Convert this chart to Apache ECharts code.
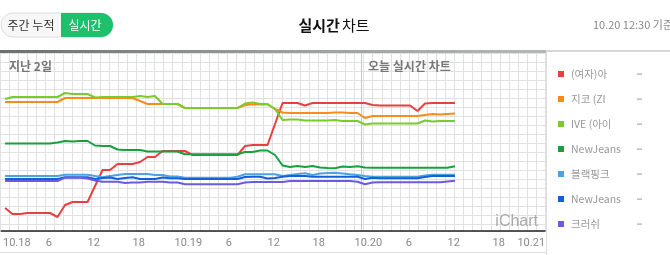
<!DOCTYPE html>
<html>
<head>
<meta charset="utf-8">
<script src="https://cdn.jsdelivr.net/npm/echarts@6.0.0/dist/echarts.min.js"></script>
<style>
html,body{margin:0;padding:0;background:#fff;}
#c{width:670px;height:255px;}
</style>
</head>
<body>
<div id="c"></div>
<script>
// ---- data (hourly points, first point at 10.18 00:30, last at 10.20 12:30) ----
const firstHour = 0.5;
const tickLabels = ["10.18","6","12","18","10.19","6","12","18","10.20","6","12","18","10.21"];
const seriesNames = ["(여자)아", "지코 (ZI", "IVE (아이", "NewJeans", "블랙핑크", "NewJeans", "크러쉬"];
const seriesColors = ["#e8403f", "#f78c1e", "#7acc2c", "#17a03c", "#4ba3e3", "#155fd8", "#6a5be3"];

const red = [23,17,17,18,18,18,18,14,26,29,29,29,45,61,61,67,67,67,69,74,74,80,80,80,80,76,76,76,76,76,76,76,85,86,86,86,107,128,128,128,125.5,128,128,128,128,128,128,128,128,126,125.5,125.5,125.5,125.5,125.5,120,127.5,128,128,128,128];
const orange = [129,129,129,129,129,129,129,129,133,133,133,133,133,133,133,133,133,133,130,127,127,127,127,127,123,123,123,123,123,123,123,123,126,126.5,126.5,126.5,122,118.5,118,118,118,118,118,118,118.5,118.5,118,118,113,115,115,115,115,115,115,115,116,117,116.5,117,117.5];
const lime = [132,134,134,134,134,134,134,134,138,137,137,137,133.5,134,134,134,134,134,135,134,135,127,127,127,123,123,123,123,123,123,123,123,127.5,128.5,127,127,122,111,111.5,111.5,110.5,110.5,110.5,110.5,111,110,110,110,106.5,107.5,107.5,107.5,107.5,107.5,107.5,107.5,110.5,109.5,110,110,110];
const green = [87.5,87.5,87.5,87.5,87.5,87.5,87.5,88.5,90,89.5,90,90,85.5,85,85,81.5,81,81,81,79.5,79.5,79.5,79.5,79.5,76.7,76.7,76.7,76.7,76.7,76.7,76.7,76.7,79,79,80.5,80.5,76,65.5,64,65,64,65,63.5,63,62.7,64.5,64,64.7,63.5,63.3,63.3,63.3,63.3,63.3,63.3,63.3,63.3,63.3,63.3,63.3,64.7];
const skyblue = [55,55,55,55,55,55,55,55,56.3,56.3,56.3,56.3,55,53.7,55,56,57,57,57,57,56,56,54.5,54.5,53.3,53.3,53.3,53.3,53.3,53.3,53.3,54.3,56.7,56.7,56.7,56.7,56.7,55,56,57,57.7,56,57.5,58,58.3,57.5,56.7,56,55,54.3,54.3,54.3,54.3,54.3,54.3,54.3,55.5,56.3,56.3,56.3,56.3];
const blue = [52,52,52,52,52,52,52,52,53.7,53.7,53.7,53.7,52,53,53.5,52,53,53.7,52,52,52,53.5,52.7,52.7,52,52,52,52,52,52,52,52,54,54.3,54.3,52.5,53,54.3,55,55,55,54.3,54.3,54.3,54.3,54.3,54.3,54.3,52,53.2,52.7,52.7,52.7,52.7,52.7,52.7,54,55,55,55,55];
const purple = [50,50,50,50,50,50,50,50,53.3,53.3,53.3,52.5,50.5,49.3,49.3,49.3,48,48.5,48.5,49.3,49.3,49.3,48.5,48.5,46.7,46.7,46.7,46.7,46.7,46.7,46.7,46.7,48.5,49,49,49,49,49,50,50,50,50,50,50,50,50,50,49.3,46.7,48.5,48.7,48.7,48.7,48.7,48.7,48.7,48.7,48.7,48.7,49.5,50.3];
const allSeries = [red, orange, lime, green, skyblue, blue, purple];

const FONT = "'Noto Sans CJK KR', 'Noto Sans', sans-serif";
const chart = echarts.init(document.getElementById('c'), null, {renderer: 'canvas'});

const series = allSeries.map((vals, k) => ({
  type: 'line',
  name: seriesNames[k],
  xAxisIndex: 0, yAxisIndex: 0,
  data: vals.map((v, i) => [firstHour + i, v]),
  showSymbol: false,
  symbol: 'none',
  silent: true,
  lineStyle: {width: 2, color: seriesColors[k]},
  itemStyle: {color: seriesColors[k]},
  z: 5
}));
series[0].markLine = {
  silent: true, symbol: 'none', label: {show: false},
  lineStyle: {color: '#c6c6c6', type: 'solid', width: 1},
  data: [{xAxis: 48}],
  z: 3
};

const lab = {color: '#888', fontSize: 11, fontFamily: "Roboto, sans-serif"};
const legendGraphics = [];
seriesNames.forEach((n, k) => {
  const y = 74 + 25 * k;
  legendGraphics.push({type: 'rect', shape: {x: 558, y: y - 3, width: 6, height: 6}, style: {fill: seriesColors[k]}});
  legendGraphics.push({type: 'text', x: 571, y: y, style: {text: n, fill: '#999', font: "10.5px " + FONT, verticalAlign: 'middle'}});
  legendGraphics.push({type: 'rect', shape: {x: 637, y: y - 0.5, width: 5, height: 1.2}, style: {fill: '#aaa'}});
});

chart.setOption({
  animation: false,
  grid: [
    {left: 1, top: 53, width: 544, height: 178},
    {left: 0, top: 53, width: 545, height: 178}
  ],
  xAxis: [
    {
      gridIndex: 0, type: 'value', min: 0, max: 72.5, interval: 6,
      axisLine: {show: true, lineStyle: {color: '#222', width: 1.5}},
      axisTick: {show: false},
      splitLine: {show: false},
      axisLabel: {
        margin: 7, showMaxLabel: false, ...lab,
        formatter: function (v) {
          if (v % 6 !== 0) return '';
          const idx = v / 6;
          const t = tickLabels[idx];
          if (t === undefined) return '';
          if (idx === 0) return '{f|' + t + '}';
          if (idx === tickLabels.length - 1) return '{l|' + t + '}';
          if (idx % 4 === 0) return '{d|' + t + '}';
          return '{t|' + t + '}';
        },
        rich: {
          f: {...lab, padding: [0, 0, 0, 31]},
          l: {...lab, padding: [0, 20, 0, 0]},
          d: {...lab, padding: [0, 0, 0, 14]},
          t: {...lab, padding: [0, 0, 0, 5]}
        }
      },
      z: 6
    },
    {
      gridIndex: 1, type: 'value', min: 0, max: 59.96, interval: 1,
      axisLine: {show: false}, axisTick: {show: false}, axisLabel: {show: false},
      splitLine: {show: true, lineStyle: {color: '#e1e1e1', width: 1}},
      z: 0
    }
  ],
  yAxis: [
    {
      gridIndex: 0, type: 'value', min: 0, max: 178,
      axisLine: {show: false}, axisTick: {show: false}, axisLabel: {show: false},
      splitLine: {show: false}
    },
    {
      gridIndex: 1, type: 'value', min: 0, max: 19.73, interval: 1, inverse: true,
      axisLine: {show: false}, axisTick: {show: false}, axisLabel: {show: false},
      splitLine: {show: true, lineStyle: {color: '#e1e1e1', width: 1}},
      z: 0
    }
  ],
  series: series,
  graphic: [
    // top bar
    {type: 'rect', shape: {x: 0, y: 50, width: 546, height: 3}, z: 10,
      style: {fill: new echarts.graphic.LinearGradient(0, 0, 1, 0, [
        {offset: 0, color: '#6c6e71'}, {offset: 0.5, color: '#9a9c9f'}, {offset: 1, color: '#b4b6b9'}])}},
    {type: 'rect', shape: {x: 546, y: 50, width: 124, height: 2}, z: 10, style: {fill: '#d6d6d6'}},
    // legend panel border
    {type: 'rect', shape: {x: 546, y: 50, width: 1, height: 205}, z: 10, style: {fill: '#dcdcdc'}},
    // bottom line
    {type: 'rect', shape: {x: 0, y: 252, width: 546, height: 1}, z: 10, style: {fill: '#dedede'}},
    // header pill
    {type: 'rect', shape: {x: 1, y: 13, width: 112, height: 24, r: 12}, z: 10, style: {fill: '#f7f7f7', stroke: '#dcdcdc', lineWidth: 1}},
    {type: 'rect', shape: {x: 61, y: 13, width: 52, height: 24, r: [0, 12, 12, 0]}, z: 11, style: {fill: '#1ec16b'}},
    {type: 'text', x: 31, y: 25, z: 12, style: {text: '주간 누적', fill: '#333', font: "12px " + FONT, align: 'center', verticalAlign: 'middle'}},
    {type: 'text', x: 85, y: 25, z: 12, style: {text: '실시간', fill: '#fff', font: "12px " + FONT, align: 'center', verticalAlign: 'middle'}},
    // title
    {type: 'text', x: 334, y: 25, z: 12, style: {
      text: '{b|실시간}{n|차트}', align: 'center', verticalAlign: 'middle',
      rich: {b: {font: "bold 15px " + FONT, fill: '#111', padding: [0, 2, 0, 0]}, n: {font: "15px " + FONT, fill: '#111'}}}},
    {type: 'text', x: 673, y: 25, z: 12, style: {text: '10.20 12:30 기준', fill: '#888', font: "11px " + FONT, align: 'right', verticalAlign: 'middle'}},
    // plot annotations
    {type: 'text', x: 9, y: 66, z: 12, style: {text: '지난 2일', fill: '#777', font: "bold 12px " + FONT, verticalAlign: 'middle'}},
    {type: 'text', x: 368, y: 66, z: 12, style: {text: '오늘 실시간 차트', fill: '#777', font: "bold 12px " + FONT, verticalAlign: 'middle'}},
    {type: 'text', x: 538, y: 222, z: 12, style: {text: 'iChart', fill: '#aaa', font: "16px 'Liberation Sans', sans-serif", align: 'right', verticalAlign: 'middle'}}
  ].concat(legendGraphics.map(g => Object.assign({z: 12}, g)))
});
</script>
</body>
</html>
